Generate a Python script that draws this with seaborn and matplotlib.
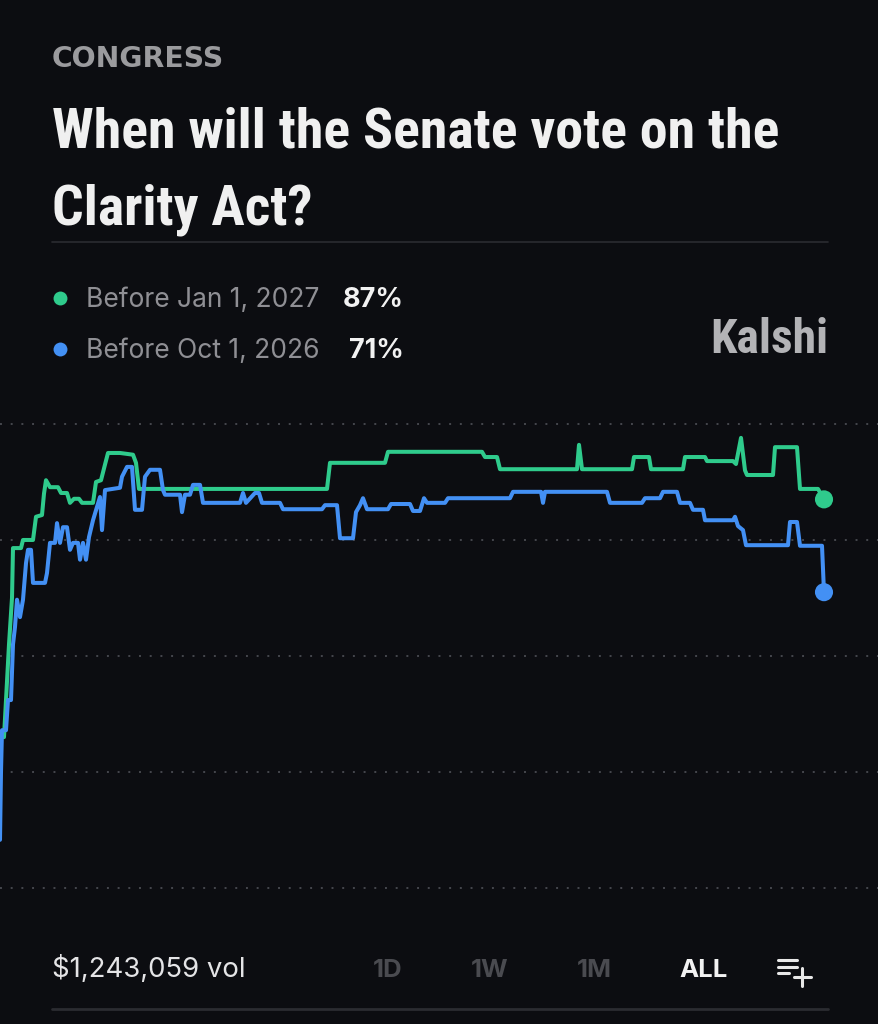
import pandas as pd
import matplotlib
matplotlib.use("Agg")
import matplotlib.pyplot as plt
from matplotlib.lines import Line2D
import seaborn as sns
import warnings
warnings.filterwarnings("ignore")

# ── Style ─────────────────────────────────────────────────────────────────────
BG = "#0c0d11"
GREEN = "#2fcb8c"
BLUE = "#4390f4"
GRID = "#45474d"
sns.set_theme(style="dark", rc={
    "figure.facecolor": BG,
    "axes.facecolor": BG,
    "savefig.facecolor": BG,
})
plt.rcParams["font.family"] = ["Inter", "DejaVu Sans"]
NARROW = ["Roboto Condensed", "Liberation Sans Narrow", "DejaVu Sans Condensed",
          "Roboto", "DejaVu Sans"]

# ── Data (time steps vs. chance %) ────────────────────────────────────────────
series_names = ["Before Jan 1, 2027", "Before Oct 1, 2026"]
current_pct = ["87%", "71%"]

green_t = [4, 9, 12, 13, 21, 23, 33, 36, 42, 44, 46, 50, 58, 61, 67, 70, 74, 79,
           82, 93, 96, 101, 105, 108, 120, 133, 136, 139, 327, 330, 385, 388,
           482, 485, 497, 500, 577, 579, 582, 632, 634, 649, 651, 683, 685, 705,
           707, 733, 736, 741, 745, 747, 773, 775, 797, 800, 818, 824]
green_p = [46, 62, 70, 78.6, 78.6, 80, 80, 84, 84.3, 88, 90.3, 89.1, 89.1, 88.1,
           88.1, 86.4, 87.1, 87.1, 86.4, 86.4, 90, 90.3, 93, 95, 95, 94.7, 93.3,
           88.8, 88.8, 93.3, 93.3, 95.2, 95.2, 94.3, 94.3, 92.2, 92.2, 96.4,
           92.2, 92.2, 94.3, 94.3, 92.2, 92.2, 94.3, 94.3, 93.6, 93.6, 93.1,
           97.6, 92, 91.2, 91.2, 96, 96, 88.8, 88.8, 87]

blue_t = [0, 1, 2, 6, 8, 11, 13, 15, 17, 20, 23, 26, 28, 31, 33, 45, 47, 50, 55,
          57, 60, 63, 67, 70, 73, 78, 80, 83, 86, 89, 93, 97, 100, 102, 105, 120,
          122, 127, 132, 135, 142, 145, 150, 160, 163, 165, 180, 182, 185, 190,
          193, 200, 203, 240, 243, 246, 255, 259, 262, 280, 283, 322, 325, 337,
          340, 353, 356, 360, 363, 367, 388, 391, 410, 413, 420, 424, 427, 445,
          448, 510, 513, 541, 543, 545, 607, 610, 642, 645, 660, 663, 677, 680,
          690, 693, 703, 705, 733, 735, 738, 743, 746, 788, 790, 797, 800, 822,
          824]
blue_p = [28.3, 40, 47.2, 47.2, 52.4, 52.4, 62, 65, 69.7, 66.7, 69.7, 76, 78.3,
          78.3, 72.6, 72.6, 74.3, 79.5, 79.5, 82.9, 79.5, 82.2, 82.2, 78.3, 79.5,
          79.5, 76.6, 79.5, 76.6, 80.5, 83.4, 85.7, 87.4, 81.7, 88.6, 89, 90.9,
          92.6, 92.6, 85.2, 85.2, 90.9, 92.1, 92.1, 88.6, 87.8, 87.8, 84.8, 87.8,
          87.8, 89.5, 89.5, 86.4, 86.4, 88.1, 86.4, 88.1, 88.1, 86.4, 86.4, 85.3,
          85.3, 86, 86, 80.3, 80.3, 84.8, 86, 87.2, 85.3, 85.3, 86.2, 86.2, 85,
          85, 87.2, 86.4, 86.4, 87.2, 87.2, 88.3, 88.3, 86.4, 88.3, 88.3, 86.4,
          86.4, 87.2, 87.2, 88.3, 88.3, 86.4, 86.4, 85.2, 85.2, 83.4, 83.4, 84,
          82.4, 81.7, 79.1, 79.1, 83.1, 83.1, 79, 79, 71]

grid_levels = [20, 40, 60, 80, 100]

df = pd.concat([
    pd.DataFrame({"t": green_t, "pct": green_p, "series": series_names[0]}),
    pd.DataFrame({"t": blue_t, "pct": blue_p, "series": series_names[1]}),
], ignore_index=True)
ends = df.groupby("series", sort=False).tail(1)

# ── Figure ────────────────────────────────────────────────────────────────────
fig = plt.figure(figsize=(8.79, 10.24), dpi=100)
ax = fig.add_axes([0, 0.0762, 1, 0.5211])
renderer = fig.canvas.get_renderer()

palette = {series_names[0]: GREEN, series_names[1]: BLUE}
sns.lineplot(data=df, x="t", y="pct", hue="series", palette=palette,
             estimator=None, sort=False, linewidth=2.9, legend=False, ax=ax)
sns.scatterplot(data=ends, x="t", y="pct", hue="series", palette=palette,
                s=170, edgecolor="none", legend=False, ax=ax, zorder=5)

ax.set_xlim(0, 879)
ax.set_ylim(10, 102)
ax.set_yticks(grid_levels)
ax.set_xticks([])
ax.grid(axis="y", color=GRID, linestyle=(0, (1, 4.5)), linewidth=1.4)
ax.grid(axis="x", visible=False)
ax.tick_params(left=False, bottom=False, labelleft=False, labelbottom=False)
ax.set_xlabel("")
ax.set_ylabel("")
for s in ax.spines.values():
    s.set_visible(False)


def fy(px):
    return 1 - px / 1024


def fx(px):
    return px / 879


def fit_width(txt, width_px):
    # scale font so the rendered text spans the same width as the reference
    w = txt.get_window_extent(renderer).width
    txt.set_fontsize(txt.get_fontsize() * width_px / w)
    return txt.get_fontsize()


# ── Header ────────────────────────────────────────────────────────────────────
fig.text(fx(52), fy(67), "CONGRESS", family="DejaVu Sans", weight="bold",
         fontsize=20.3, color="#9b9b9e", va="baseline")
t1 = fig.text(fx(52), fy(148), "When will the Senate vote on the", family=NARROW,
              stretch="condensed", weight="bold", fontsize=40, color="#f0f0f0",
              va="baseline")
title_size = fit_width(t1, 726)
fig.text(fx(52), fy(225), "Clarity Act?", family=NARROW, stretch="condensed",
         weight="bold", fontsize=title_size, color="#f0f0f0", va="baseline")
fig.add_artist(Line2D([fx(52), fx(828)], [fy(242), fy(242)],
                      color="#2b2c31", linewidth=1.2))

# ── Legend ────────────────────────────────────────────────────────────────────
for name, pct, color, dot_y, base_y, pct_x in [
        (series_names[0], current_pct[0], GREEN, 298, 307, 343),
        (series_names[1], current_pct[1], BLUE, 349, 358, 349)]:
    fig.add_artist(Line2D([fx(60)], [fy(dot_y)], marker="o", markersize=10,
                          color=color, markeredgewidth=0))
    lt = fig.text(fx(86), fy(base_y), name, fontsize=19, color="#8f8f94",
                  va="baseline")
    fig.text(fx(pct_x), fy(base_y), pct, fontsize=19.5, weight="bold",
             color="#f2f2f2", va="baseline")

k = fig.text(fx(828), fy(353), "Kalshi", family=NARROW, stretch="condensed",
             weight="bold", fontsize=30, color="#b3b3b6", ha="right",
             va="baseline")
fit_width(k, 118)

# ── Footer ────────────────────────────────────────────────────────────────────
fig.text(fx(52), fy(977), "$1,243,059 vol", fontsize=19.8, color="#e4e4e6",
         va="baseline")
for label, x0, col in [("1D", 373, "#4a4b50"), ("1W", 471, "#4a4b50"),
                       ("1M", 577, "#4a4b50"), ("ALL", 679, "#f2f2f2")]:
    fig.text(fx(x0), fy(977), label, fontsize=18.5, weight="bold", color=col,
             va="baseline")

# menu icon (≡+)
icon_c = "#e8e8e8"
for y0, x1 in [(960, 797), (967, 797), (973, 789)]:
    fig.add_artist(Line2D([fx(778), fx(x1)], [fy(y0), fy(y0)],
                          color=icon_c, linewidth=2.2))
fig.add_artist(Line2D([fx(794), fx(811)], [fy(977), fy(977)],
                      color=icon_c, linewidth=2.2))
fig.add_artist(Line2D([fx(802.5), fx(802.5)], [fy(968), fy(986)],
                      color=icon_c, linewidth=2.2))

fig.add_artist(Line2D([fx(52), fx(828)], [fy(1009), fy(1009)],
                      color="#2b2c31", linewidth=2))

plt.savefig("out.png", dpi=100, facecolor=BG)
plt.close()
